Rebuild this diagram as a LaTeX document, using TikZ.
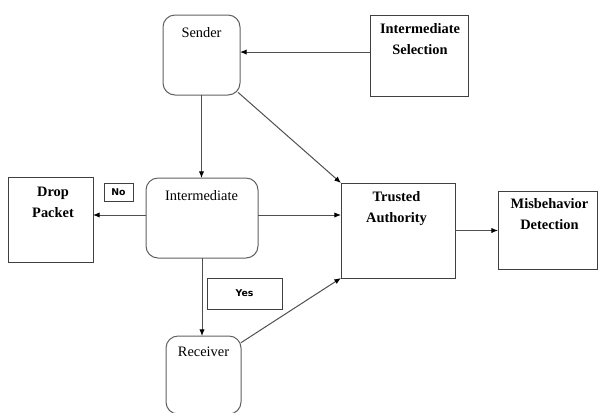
\documentclass[tikz,border=0pt]{standalone}
\usepackage{fontspec}
\setmainfont{Liberation Serif}
\newfontfamily\lblfont{DejaVu Sans}
\usetikzlibrary{arrows.meta}
\definecolor{edge}{HTML}{505050}
\definecolor{bord}{HTML}{404040}
\tikzset{
  boxs/.style={draw=bord, line width=0.75pt, inner sep=0pt, outer sep=0pt, fill=white},
  rbox/.style={boxs, rounded corners=9pt, draw=edge!90},
  ttl/.style={anchor=north, inner sep=0pt, align=center, font=\fontsize{10.8}{15.75}\selectfont},
  bttl/.style={ttl, font=\fontsize{10.8}{15.75}\selectfont\bfseries},
  tagbox/.style={boxs, font=\lblfont\bfseries\fontsize{7}{8}\selectfont},
  arr/.style={draw=edge, line width=0.75pt, -{Latex[length=5pt,width=4pt,color=black]}}
}
\begin{document}
\begin{tikzpicture}[x=0.75pt,y=-0.75pt]
\useasboundingbox (0,0) rectangle (598,412);
\fill[white] (0,0) rectangle (598,412);
\clip (0,0) rectangle (598,412);
% boxes
\node[rbox, minimum width=57.75pt, minimum height=60pt] (sender) at (201.5,55) {};
\node[boxs, minimum width=73.5pt, minimum height=60.75pt] (intsel) at (419,55.5) {};
\node[boxs, minimum width=63.75pt, minimum height=63.75pt] (drop) at (50.5,219.5) {};
\node[tagbox, minimum width=21.75pt, minimum height=13.5pt] (no) at (118.5,192) {No};
\node[rbox, minimum width=84pt, minimum height=60pt] (inter) at (202,218) {};
\node[boxs, minimum width=85.5pt, minimum height=71.25pt] (ta) at (398,230.5) {};
\node[boxs, minimum width=74.25pt, minimum height=58.5pt] (md) at (547.5,230) {};
\node[tagbox, minimum width=56.25pt, minimum height=23.25pt] (yes) at (244.5,293.5) {Yes};
\node[rbox, minimum width=56.25pt, minimum height=58.5pt] (recv) at (203.5,375) {};
% titles
\node[ttl] (senderT) at (201.5,27) {Sender};
\node[bttl] (intselT) at (420,23) {Intermediate\\Selection};
\node[bttl] (dropT) at (53,187) {Drop\\Packet};
\node[ttl] (interT) at (201.5,190) {Intermediate};
\node[bttl] (taT) at (396.5,191) {Trusted\\Authority};
\node[bttl] (mdT) at (549.5,198) {Misbehavior\\Detection};
\node[ttl] (recvT) at (203.5,347) {Receiver};
% connectors
\draw[arr] ([yshift=2.6pt]intsel.west) -- ([yshift=2.6pt]intsel.west -| sender.east);
\draw[arr] (sender.south) -- (sender.south |- inter.north);
\draw[arr] ([shift={(-1.5pt,2pt)}]sender.south east) -- (ta.north west);
\draw[arr] ([yshift=2.25pt]inter.west) -- ([yshift=2.25pt]inter.west -| drop.east);
\draw[arr] ([yshift=2.25pt]inter.east) -- ([yshift=2.25pt]inter.east -| ta.west);
\draw[arr] (inter.south) -- (inter.south |- recv.north);
\draw[arr] ([yshift=-5pt]recv.north east) -- (ta.south west);
\draw[arr] (ta.east) -- (ta.east -| md.west);
\end{tikzpicture}
\end{document}
